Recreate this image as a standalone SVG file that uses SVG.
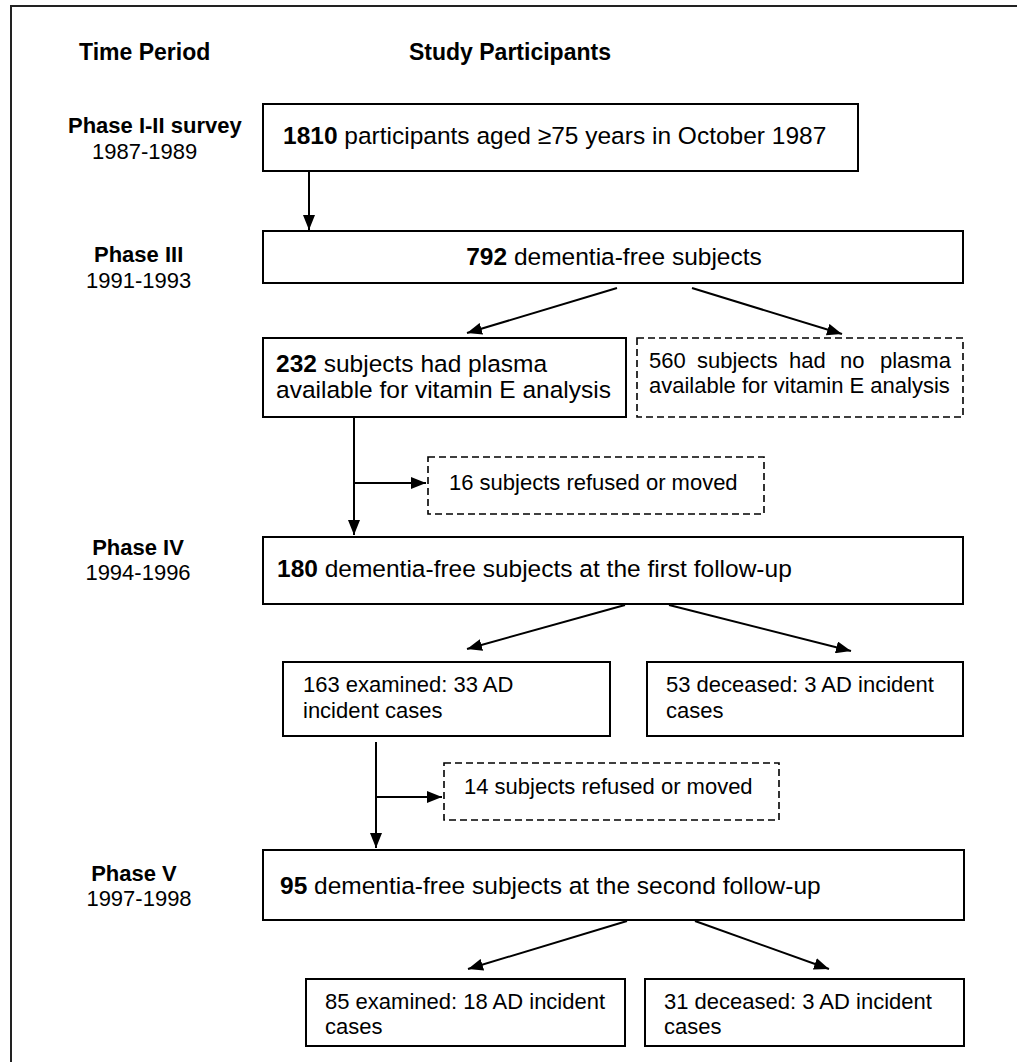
<svg xmlns="http://www.w3.org/2000/svg" width="1017" height="1062" viewBox="0 0 1017 1062">
<defs>
<marker id="arr" markerWidth="15" markerHeight="12" refX="15" refY="6" orient="auto" markerUnits="userSpaceOnUse"><path d="M0,0 L15,6 L0,12 z" fill="#000"/></marker>
<style>
.box{fill:#fff;stroke:#000;stroke-width:2}
.dash{fill:#fff;stroke:#000;stroke-width:1.6;stroke-dasharray:7 4}
.t{font-family:"Liberation Sans",Arial,Helvetica,sans-serif;font-size:24.5px;fill:#000}
.s22{font-size:22px}
.b{font-weight:bold}
.hd{font-family:"Liberation Sans",Arial,Helvetica,sans-serif;font-size:23px;font-weight:bold;fill:#000}
.ph{font-family:"Liberation Sans",Arial,Helvetica,sans-serif;font-size:22px;fill:#000}
.conn{stroke:#000;stroke-width:2;fill:none}
</style>
</defs>
<rect x="11" y="6" width="1030" height="1080" fill="none" stroke="#222" stroke-width="2"/>

<g id="headers">
<text class="hd" x="79" y="60">Time Period</text>
<text class="hd" x="409" y="60">Study Participants</text>
</g>

<g id="time-periods">
<text class="ph b" x="68" y="133">Phase I-II survey</text>
<text class="ph" x="92" y="159">1987-1989</text>
<text class="ph b" x="94" y="262">Phase III</text>
<text class="ph" x="86" y="288">1991-1993</text>
<text class="ph b" x="138" y="555" text-anchor="middle">Phase IV</text>
<text class="ph" x="138" y="580" text-anchor="middle">1994-1996</text>
<text class="ph b" x="134" y="881" text-anchor="middle">Phase V</text>
<text class="ph" x="139" y="906" text-anchor="middle">1997-1998</text>
</g>

<g id="connectors">
<path class="conn" d="M309,171 V230" marker-end="url(#arr)"/>
<path class="conn" d="M617,288 L467,333" marker-end="url(#arr)"/>
<path class="conn" d="M692,288 L842,334" marker-end="url(#arr)"/>
<path class="conn" d="M354,417 V535" marker-end="url(#arr)"/>
<path class="conn" d="M354,483 H426" marker-end="url(#arr)"/>
<path class="conn" d="M625,605 L467,649" marker-end="url(#arr)"/>
<path class="conn" d="M669,605 L851,651" marker-end="url(#arr)"/>
<path class="conn" d="M376,742 V848" marker-end="url(#arr)"/>
<path class="conn" d="M376,797 H442" marker-end="url(#arr)"/>
<path class="conn" d="M627,921 L468,969" marker-end="url(#arr)"/>
<path class="conn" d="M695,921 L829,969" marker-end="url(#arr)"/>
</g>

<g id="n1810">
<rect class="box" x="263" y="104" width="595" height="67"/>
<text class="t" x="283" y="144"><tspan class="b">1810</tspan> participants aged ≥75 years in October 1987</text>
</g>
<g id="n792">
<rect class="box" x="263" y="231" width="700" height="52"/>
<text class="t" x="614" y="265" text-anchor="middle"><tspan class="b">792</tspan> dementia-free subjects</text>
</g>
<g id="n232">
<rect class="box" x="263" y="338" width="363" height="79"/>
<text class="t" x="276" y="372"><tspan class="b">232</tspan> subjects had plasma</text>
<text class="t" x="276" y="398">available for vitamin E analysis</text>
</g>
<g id="n560">
<rect class="dash" x="637" y="338" width="326" height="79"/>
<text class="t s22" y="368"><tspan x="649">560</tspan><tspan x="697">subjects</tspan><tspan x="789">had</tspan><tspan x="840">no</tspan><tspan x="880">plasma</tspan></text>
<text class="t s22" x="649" y="393">available for vitamin E analysis</text>
</g>
<g id="n16">
<rect class="dash" x="428" y="457" width="336" height="57"/>
<text class="t s22" x="449" y="490">16 subjects refused or moved</text>
</g>
<g id="n180">
<rect class="box" x="263" y="537" width="700" height="67"/>
<text class="t" x="277" y="577"><tspan class="b">180</tspan> dementia-free subjects at the first follow-up</text>
</g>
<g id="n163">
<rect class="box" x="283" y="662" width="327" height="74"/>
<text class="t s22" x="303" y="692">163 examined: 33 AD</text>
<text class="t s22" x="303" y="718">incident cases</text>
</g>
<g id="n53">
<rect class="box" x="647" y="662" width="316" height="74"/>
<text class="t s22" x="666" y="692">53 deceased: 3 AD incident</text>
<text class="t s22" x="666" y="718">cases</text>
</g>
<g id="n14">
<rect class="dash" x="444" y="763" width="335" height="57"/>
<text class="t s22" x="464" y="794">14 subjects refused or moved</text>
</g>
<g id="n95">
<rect class="box" x="263" y="850" width="701" height="70"/>
<text class="t" x="280" y="894"><tspan class="b">95</tspan> dementia-free subjects at the second follow-up</text>
</g>
<g id="n85">
<rect class="box" x="306" y="979" width="319" height="67"/>
<text class="t s22" x="325" y="1009">85 examined: 18 AD incident</text>
<text class="t s22" x="325" y="1034">cases</text>
</g>
<g id="n31">
<rect class="box" x="645" y="979" width="319" height="67"/>
<text class="t s22" x="664" y="1009">31 deceased: 3 AD incident</text>
<text class="t s22" x="664" y="1034">cases</text>
</g>
</svg>
